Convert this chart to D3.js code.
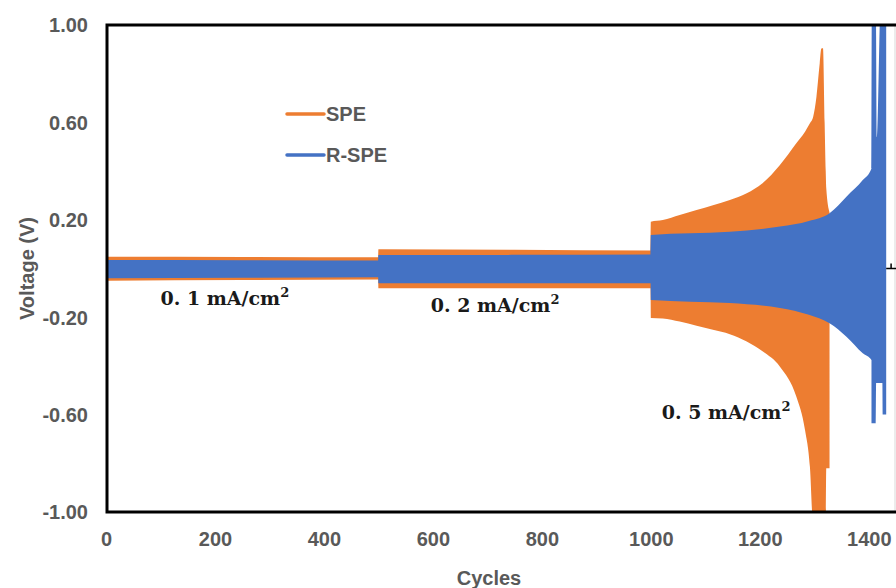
<!DOCTYPE html>
<html>
<head>
<meta charset="utf-8">
<script src="https://cdn.jsdelivr.net/npm/d3@7"></script>
<style>
  html, body { margin: 0; padding: 0; background: #fff; }
  svg { display: block; }
  .tick text { font-family: "Liberation Sans", Arial, sans-serif; font-weight: bold; fill: #595959; }
</style>
</head>
<body>
<svg id="chart" width="896" height="588"></svg>
<script>
// envelope of the SPE trace (orange)
const speCycles = [0, 250, 499.5, 500, 750, 999.5, 1000, 1022, 1053, 1084, 1114, 1145, 1176, 1205, 1237, 1267, 1283, 1292, 1298, 1304, 1310, 1313, 1316, 1319, 1321, 1322, 1328];
const speUpper  = [0.048, 0.047, 0.046, 0.079, 0.077, 0.074, 0.192, 0.199, 0.22, 0.24, 0.26, 0.281, 0.309, 0.35, 0.425, 0.514, 0.562, 0.596, 0.623, 0.705, 0.843, 0.904, 0.905, 0.60, 0.40, 0.33, 0.23];
const speLower  = [-0.050, -0.047, -0.045, -0.081, -0.081, -0.081, -0.203, -0.205, -0.218, -0.235, -0.252, -0.27, -0.30, -0.34, -0.403, -0.526, -0.663, -0.814, -1.05, -1.05, -1.05, -1.05, -1.05, -1.05, -1.05, -0.82, -0.82];

// envelope of the R-SPE trace (blue)
const rspeCycles = [0, 250, 499.5, 500, 750, 999.5, 1000, 1145, 1237, 1290, 1328, 1359, 1389, 1405, 1405.5, 1413, 1413.5, 1415, 1422, 1425, 1425.5, 1432];
const rspeUpper  = [0.035, 0.034, 0.033, 0.055, 0.056, 0.058, 0.138, 0.151, 0.172, 0.195, 0.227, 0.295, 0.363, 0.411, 1.1, 1.1, 0.95, 0.54, 1.1, 1.1, 1.1, 1.1];
const rspeLower  = [-0.040, -0.038, -0.036, -0.061, -0.061, -0.061, -0.129, -0.142, -0.162, -0.19, -0.225, -0.28, -0.348, -0.376, -0.636, -0.636, -0.47, -0.47, -0.47, -0.47, -0.60, -0.60];

const xTicks = [0, 200, 400, 600, 800, 1000, 1200, 1400];
const yTicks = [-1, -0.6, -0.2, 0.2, 0.6, 1];
const seriesNames = ['SPE', 'R-SPE'];
const seriesColors = ['#ED7D31', '#4472C4'];

const notes = [
    {cycle: 100, v: -0.15, label: '0. 1 mA/cm'},
    {cycle: 596, v: -0.18, label: '0. 2 mA/cm'},
    {cycle: 1020, v: -0.62, label: '0. 5 mA/cm'}
];

const margin = {top: 25, right: 0, bottom: 76, left: 107};
const width = 896, height = 588;

const svg = d3.select('#chart');

const x = d3.scaleLinear()
    .domain([0, 1450])
    .range([margin.left - 1, width]);

const y = d3.scaleLinear()
    .domain([-1, 1])
    .range([height - margin.bottom, margin.top]);

svg.append('clipPath').attr('id', 'plot-clip')
    .append('rect')
    .attr('x', margin.left).attr('y', margin.top)
    .attr('width', width - margin.left).attr('height', y(-1) - margin.top);

const band = (cycles, upper, lower) => cycles.map((c, i) => ({c, hi: upper[i], lo: lower[i]}));

const area = d3.area()
    .x(d => x(d.c))
    .y0(d => y(d.lo))
    .y1(d => y(d.hi))
    .curve(d3.curveMonotoneX);

const plot = svg.append('g').attr('clip-path', 'url(#plot-clip)');

plot.append('path')
    .datum(band(speCycles, speUpper, speLower))
    .attr('fill', seriesColors[0])
    .attr('d', area);

plot.append('path')
    .datum(band(rspeCycles, rspeUpper, rspeLower))
    .attr('fill', seriesColors[1])
    .attr('d', area);

// faint right edge
svg.append('line')
    .attr('x1', 895).attr('x2', 895)
    .attr('y1', y(1)).attr('y2', y(-1))
    .attr('stroke', '#d9d9d9').attr('stroke-width', 1);

// frame: left, bottom, top
svg.append('path')
    .attr('d', `M${width},${y(1)}H${margin.left}V${y(-1)}H${width}`)
    .attr('fill', 'none')
    .attr('stroke', '#000')
    .attr('stroke-width', 3);

// small mark at the right end of the zero line
svg.append('path')
    .attr('d', `M${x(1432)},${y(0)}H${width}M${x(1441)},${y(0)}V${y(0) - 5}`)
    .attr('stroke', '#000')
    .attr('stroke-width', 1.5);

// axes
const fmtV = v => d3.format('.2f')(v).replace('\u2212', '-');

const yAxis = svg.append('g')
    .attr('transform', `translate(${margin.left},0)`)
    .call(d3.axisLeft(y).tickValues(yTicks).tickSize(0).tickPadding(19).tickFormat(fmtV));
yAxis.select('.domain').remove();
yAxis.selectAll('.tick text').style('font-size', '20px').attr('dy', '0.34em');

const xAxis = svg.append('g')
    .attr('transform', `translate(0,${y(-1)})`)
    .call(d3.axisBottom(x).tickValues(xTicks).tickSize(0).tickPadding(20).tickFormat(d3.format('d')));
xAxis.select('.domain').remove();
xAxis.selectAll('.tick text').style('font-size', '20px');

// axis titles
svg.append('text')
    .attr('x', 489).attr('y', 585)
    .attr('text-anchor', 'middle')
    .style('font-family', '"Liberation Sans", Arial, sans-serif')
    .style('font-weight', 'bold')
    .style('font-size', '20px')
    .attr('fill', '#595959')
    .text('Cycles');

svg.append('text')
    .attr('transform', `translate(34,${y(0)}) rotate(-90)`)
    .attr('text-anchor', 'middle')
    .style('font-family', '"Liberation Sans", Arial, sans-serif')
    .style('font-weight', 'bold')
    .style('font-size', '20px')
    .attr('fill', '#595959')
    .text('Voltage (V)');

// legend
const legend = svg.append('g').attr('transform', 'translate(287,114)');
seriesNames.forEach((name, i) => {
    const row = legend.append('g').attr('transform', `translate(0,${i * 41})`);
    row.append('line')
        .attr('x1', 0).attr('x2', 37)
        .attr('stroke', seriesColors[i])
        .attr('stroke-width', 3.5)
        .attr('stroke-linecap', 'round');
    row.append('text')
        .attr('x', 39).attr('dy', '0.36em')
        .style('font-family', '"Liberation Sans", Arial, sans-serif')
        .style('font-weight', 'bold')
        .style('font-size', '20px')
        .attr('fill', '#595959')
        .text(name);
});

// current-density notes
notes.forEach(n => {
    const t = svg.append('text')
        .attr('x', x(n.cycle)).attr('y', y(n.v))
        .style('font-family', '"DejaVu Serif", "Liberation Serif", serif')
        .style('font-weight', 'bold')
        .style('font-size', '19px')
        .attr('fill', '#1a1a1a');
    t.append('tspan').text(n.label);
    t.append('tspan').attr('dy', -8).style('font-size', '13px').text('2');
});
</script>
</body>
</html>
